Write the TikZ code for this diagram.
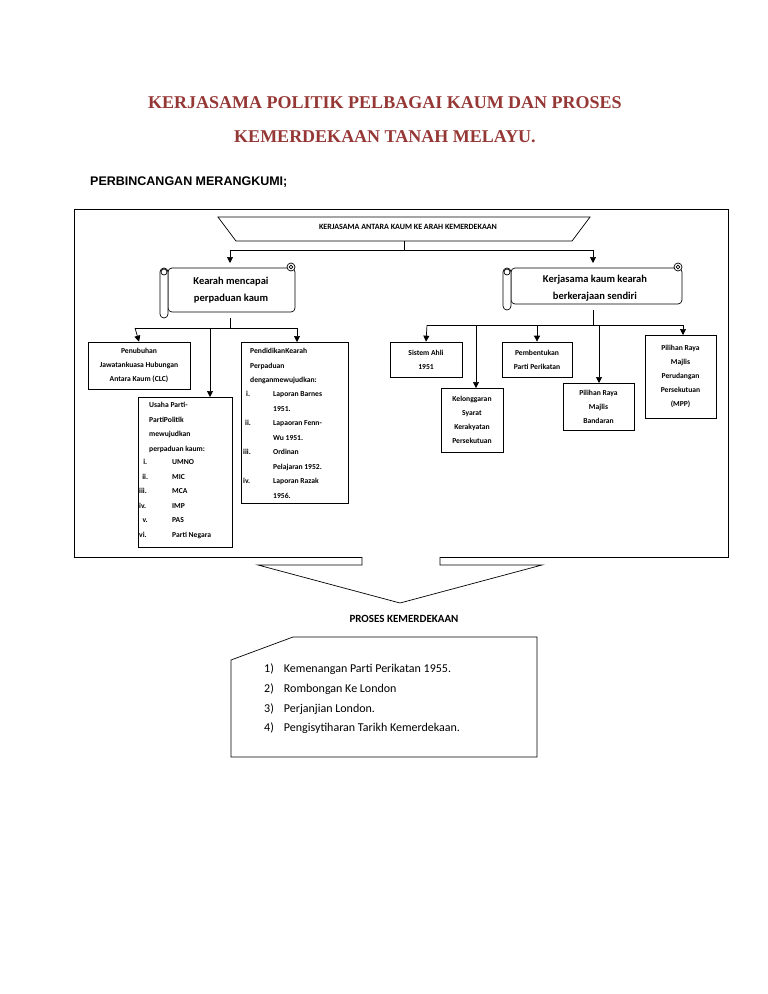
\documentclass[tikz,border=0pt]{standalone}
\usepackage{fontspec}
\setmainfont{Carlito}
\newfontfamily\ttlfont{Liberation Serif}
\newfontfamily\arialf{Liberation Sans}
\usetikzlibrary{arrows.meta}
\definecolor{ttlred}{HTML}{953735}
\begin{document}
\begin{tikzpicture}[x=1pt,y=-1pt,
  ln/.style={line width=0.7pt},
  arr/.style={ln,-{Triangle[length=6pt,width=6pt]}},
  box/.style={draw,ln,inner sep=0pt},
  sm/.style={font=\fontsize{7.6}{14}\selectfont\bfseries,align=center},
  lst/.style={font=\fontsize{7.6}{14.5}\selectfont\bfseries,align=left,anchor=north west,inner sep=0pt}]
\useasboundingbox (0,0) rectangle (768,994);
% titles
\node[font=\ttlfont\fontsize{18}{20}\selectfont\bfseries,text=ttlred] (t1) at (385,103) {KERJASAMA POLITIK PELBAGAI KAUM DAN PROSES};
\node[font=\ttlfont\fontsize{18}{20}\selectfont\bfseries,text=ttlred] (t2) at (385,137) {KEMERDEKAAN TANAH MELAYU.};
\node[font=\arialf\fontsize{12.5}{14}\selectfont\bfseries,anchor=west,inner sep=0pt] (sub) at (90,182) {PERBINCANGAN MERANGKUMI;};
% frame with notch
\draw[ln] (362,557) -- (74,557) -- (74,209) -- (728,209) -- (728,557) -- (440,557);
\draw[ln] (362,557) -- (362,565) -- (258,565) -- (400,603) -- (542,565) -- (440,565) -- (440,557);
% top trapezoid
\draw[ln] (218,217) -- (590,217) -- (572,241) -- (236,241) -- cycle;
\node[font=\fontsize{8}{9}\selectfont\bfseries] (top) at (408,227) {KERJASAMA ANTARA KAUM KE ARAH KEMERDEKAAN};
\coordinate (tb) at (404,241);
\draw[ln] (tb) -- (404,250);
\draw[ln] (230,250) -- (593,250);
\coordinate (la) at (230,250); \coordinate (ra) at (593,250);
% scrolls
\foreach \nm/\xa/\ya/\xb/\yb in {L/160/262/297/318, R/503/262/684/310}{
  \draw[ln,fill=white,rounded corners=4pt] (\xa+8,\ya+6) rectangle (\xb-2,\yb-6);
  \draw[ln,fill=white,rounded corners=4pt] (\xa,\ya+6) rectangle (\xa+8,\yb);
  \draw[ln] (\xa+4,\ya+10) circle (3);
  \draw[ln,fill=white] (\xb-6,\ya+5) circle (4);
  \draw[ln] (\xb-6,\ya+5) circle (1.8);
}
\node[font=\fontsize{10.5}{17}\selectfont\bfseries,align=center] (sl) at (231,290) {Kearah mencapai\\perpaduan kaum};
\node[font=\fontsize{10.5}{17}\selectfont\bfseries,align=center] (sr) at (595,288) {Kerjasama kaum kearah\\berkerajaan sendiri};
\draw[arr] (la) -- (230,263);
\draw[arr] (ra) -- (593,263);
% left branch
\draw[ln] (230,318) -- (230,328);
\draw[ln] (135,328) -- (297,328);
\node[box,minimum width=102pt,minimum height=47pt,sm] (clc) at (139,365.5) {Penubuhan\\Jawatankuasa Hubungan\\Antara Kaum (CLC)};
\node[box,minimum width=94pt,minimum height=150pt] (usa) at (185,472) {};
\node[box,minimum width=107pt,minimum height=161pt] (pen) at (294.5,422.5) {};
\draw[arr] (135,328) -- (clc.north);
\draw[arr] (297,328) -- (297,342);
\draw[arr] (210,328) -- (210,397);
\node[lst] (usat) at (149,402) {Usaha Parti-\\PartiPolitik\\mewujudkan\\perpaduan kaum:};
\node[lst] (usal) at (139,459) {\makebox[12pt][c]{i.}\hspace{21pt}UMNO\\\makebox[12pt][c]{ii.}\hspace{21pt}MIC\\\makebox[12pt][l]{iii.}\hspace{21pt}MCA\\\makebox[12pt][l]{iv.}\hspace{21pt}IMP\\\makebox[12pt][c]{v.}\hspace{21pt}PAS\\\makebox[12pt][l]{vi.}\hspace{21pt}Parti Negara};
\node[lst] (pent) at (250,348) {PendidikanKearah\\Perpaduan\\denganmewujudkan:};
\node[lst] (penl) at (243,391) {\makebox[30pt][l]{\hspace{3pt}i.}Laporan Barnes\\\makebox[30pt][l]{}1951.\\\makebox[30pt][l]{\hspace{2pt}ii.}Lapaoran Fenn-\\\makebox[30pt][l]{}Wu 1951.\\\makebox[30pt][l]{iii.}Ordinan\\\makebox[30pt][l]{}Pelajaran 1952.\\\makebox[30pt][l]{iv.}Laporan Razak\\\makebox[30pt][l]{}1956.};
% right branch
\draw[ln] (593,310) -- (593,325);
\draw[ln] (427,325) -- (683,325);
\node[box,minimum width=72pt,minimum height=35pt,sm] (sis) at (426,359.5) {Sistem Ahli\\1951};
\node[box,minimum width=62pt,minimum height=64pt,sm] (kel) at (472,420) {Kelonggaran\\Syarat\\Kerakyatan\\Persekutuan};
\node[box,minimum width=70pt,minimum height=35pt,sm] (pem) at (537,359.5) {Pembentukan\\Parti Perikatan};
\node[box,minimum width=71pt,minimum height=47pt,sm] (pil) at (598.5,406.5) {Pilihan Raya\\Majlis\\Bandaran};
\node[box,minimum width=71pt,minimum height=83pt,sm] (mpp) at (680.5,376.5) {Pilihan Raya\\Majlis\\Perudangan\\Persekutuan\\(MPP)};
\draw[arr] (427,325) -- (sis.north);
\draw[arr] (476,325) -- (476,388);
\draw[arr] (537,325) -- (pem.north);
\draw[arr] (599,325) -- (599,383);
\draw[arr] (683,325) -- (683,335);
% bottom
\node[font=\fontsize{11}{13}\selectfont\bfseries] (pk) at (404,619) {PROSES KEMERDEKAAN};
\draw[ln] (231,660) -- (293,637) -- (537,637) -- (537,757) -- (231,757) -- cycle;
\node[font=\fontsize{12}{19.6}\selectfont,anchor=north west,align=left,inner sep=0pt] (pl) at (264,664) {1)\hspace{10pt}Kemenangan Parti Perikatan 1955.\\2)\hspace{10pt}Rombongan Ke London\\3)\hspace{10pt}Perjanjian London.\\4)\hspace{10pt}Pengisytiharan Tarikh Kemerdekaan.};
\end{tikzpicture}
\end{document}
